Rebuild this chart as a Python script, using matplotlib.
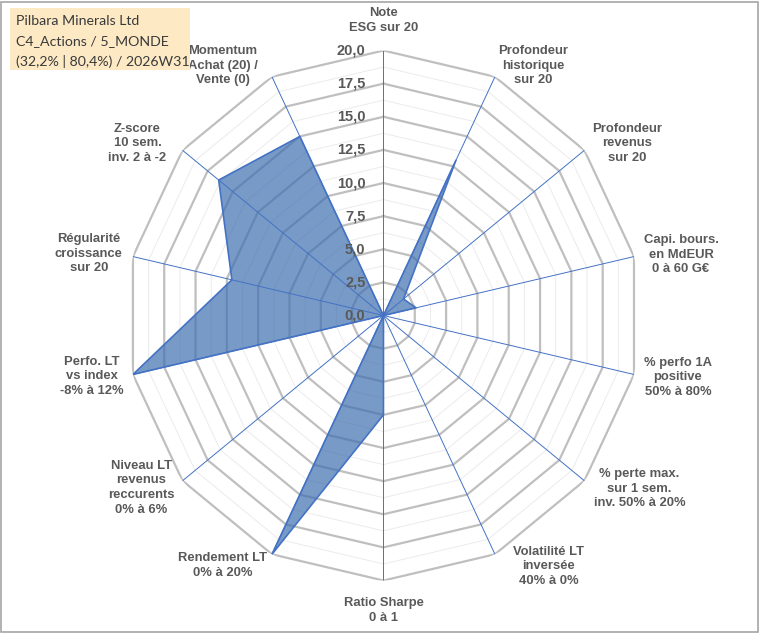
import numpy as np
import matplotlib
matplotlib.use("Agg")
import matplotlib.pyplot as plt
from matplotlib.patches import Rectangle

# critères du radar (sens horaire depuis le haut)
criteres = [
    "Note\nESG sur 20",
    "Profondeur\nhistorique\nsur 20",
    "Profondeur\nrevenus\nsur 20",
    "Capi. bours.\nen MdEUR\n0 à 60 G€",
    "% perfo 1A\npositive\n50% à 80%",
    "% perte max.\nsur 1 sem.\ninv. 50% à 20%",
    "Volatilité LT\ninversée\n40% à 0%",
    "Ratio Sharpe\n0 à 1",
    "Rendement LT\n0% à 20%",
    "Niveau LT\nrevenus\nreccurents\n0% à 6%",
    "Perfo. LT\nvs index\n-8% à 12%",
    "Régularité\ncroissance\nsur 20",
    "Z-score\n10 sem.\ninv. 2 à -2",
    "Momentum\nAchat (20) /\nVente (0)",
]
notes = [0.0, 13.0, 2.0, 2.6, 0.0, 0.0, 0.0, 7.5, 20.0, 0.0, 20.0, 12.1, 16.4, 15.0]
graduations = [0.0, 2.5, 5.0, 7.5, 10.0, 12.5, 15.0, 17.5, 20.0]
titre = ["Pilbara Minerals Ltd", "C4_Actions / 5_MONDE", "(32,2% | 80,4%) / 2026W31"]

# décalage des libellés par rapport au sommet (pixels)
decalages = [(0, 30), (38, 11), (43, 7), (47, 2), (44, -3), (55, -8), (54, -12),
             (0, -30), (-49, -11), (-41, -7), (-41, -2), (-44, 3), (-45, 7), (-49, 11)]

gris = "#595959"
bleu = "#4472C4"

n = len(criteres)
theta = np.arange(n) * 2 * np.pi / n
theta_f = np.append(theta, theta[0])

fig = plt.figure(figsize=(7.6, 6.33), dpi=100)
ax = fig.add_axes([0.1664, 0.0829, 0.6763, 0.8373], projection="polar")
ax.set_aspect("auto")
ax.set_theta_zero_location("N")
ax.set_theta_direction(-1)
ax.set_ylim(0, 20)
ax.set_xticks([])
ax.set_yticks([])
ax.grid(False)
ax.spines["polar"].set_visible(False)

# anneaux mineurs et majeurs
for r in np.arange(1.25, 20.01, 1.25):
    majeur = abs(r / 2.5 - round(r / 2.5)) < 1e-6
    ax.plot(theta_f, [r] * (n + 1),
            color="#BFBFBF" if majeur else "#EBEBEB",
            lw=1.6 if majeur else 0.7, zorder=1)

# rayons
for t in theta:
    ax.plot([t, t], [0, 20], color=bleu, lw=0.7, zorder=3)

vals = np.append(notes, notes[0])
ax.fill(theta_f, vals, facecolor="#3f6fb0", alpha=0.7, zorder=2)
ax.plot(theta_f, vals, color=bleu, lw=1.2, zorder=4)

# graduations
for g in graduations:
    ax.annotate(f"{g:.1f}".replace(".", ","), xy=(0, g), xytext=(-18, 0),
                textcoords="offset pixels", ha="right", va="center",
                fontsize=10.5, fontweight="bold", color=gris,
                family="Liberation Sans", zorder=5)

# libellés des critères
for t, lab, (dx, dy) in zip(theta, criteres, decalages):
    ax.annotate(lab, xy=(t, 20), xytext=(dx, dy), textcoords="offset pixels",
                ha="center", va="center", multialignment="center",
                fontsize=9.4, fontweight="bold", color=gris,
                family="Liberation Sans", linespacing=1.3,
                annotation_clip=False)

# cartouche titre
fig.patches.append(Rectangle((10 / 760, 1 - 70 / 633), 180 / 760, 62 / 633,
                             transform=fig.transFigure, facecolor="#FDEAC5",
                             edgecolor="none", zorder=0))
for i, ligne in enumerate(titre):
    fig.text(16 / 760, 1 - (21 + 20 * i) / 633, ligne, ha="left", va="center",
             fontsize=10.2, color="#3a3a3a", family="Lato")

# bordure
fig.patches.append(Rectangle((0.001, 0.002), 0.996, 0.995, transform=fig.transFigure,
                             facecolor="none", edgecolor="#A6A6A6", lw=1.2))

fig.savefig("out.png", dpi=100)
